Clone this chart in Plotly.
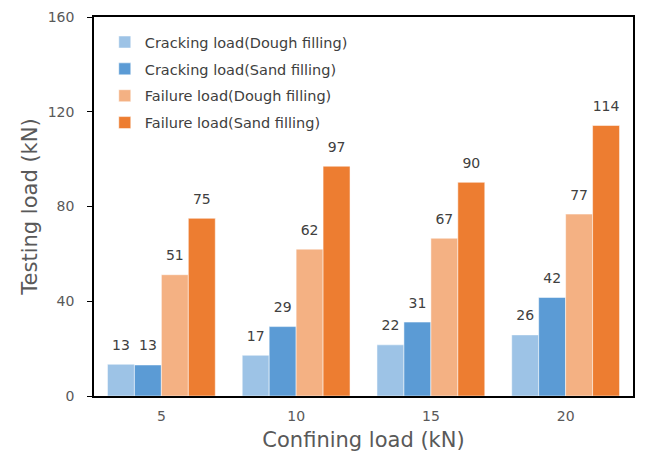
import plotly.graph_objects as go

categories = ["5", "10", "15", "20"]
series_names = [
    "Cracking load(Dough filling)",
    "Cracking load(Sand filling)",
    "Failure load(Dough filling)",
    "Failure load(Sand filling)",
]
crack_dough = [13.4, 17.2, 21.6, 25.8]
crack_sand = [13.1, 29.3, 31.2, 41.6]
fail_dough = [51.2, 62.0, 66.6, 76.8]
fail_sand = [75.0, 97.0, 90.2, 114.2]
labels = [
    ["13", "17", "22", "26"],
    ["13", "29", "31", "42"],
    ["51", "62", "67", "77"],
    ["75", "97", "90", "114"],
]
colors = ["#9DC3E6", "#5B9BD5", "#F4B183", "#ED7D31"]
values = [crack_dough, crack_sand, fail_dough, fail_sand]

font_family = "DejaVu Sans, sans-serif"

fig = go.Figure()
for i, (name, vals, col) in enumerate(zip(series_names, values, colors)):
    fig.add_trace(go.Bar(
        x=categories, y=vals, name=name, legendgroup=f"g{i}",
        marker=dict(color=col, line=dict(color="rgba(255,255,255,0.5)", width=1)),
    ))
for i, (vals, lab) in enumerate(zip(values, labels)):
    fig.add_trace(go.Scatter(
        x=categories, y=vals, text=lab, mode="markers+text",
        textposition="top center", showlegend=False, hoverinfo="skip",
        marker=dict(size=16, opacity=0),
        textfont=dict(size=14, color="#404040", family=font_family),
        cliponaxis=False,
    ))

fig.update_layout(
    width=656, height=469,
    barmode="group", bargap=0.2, bargroupgap=0,
    scattermode="group", scattergap=0.2,
    plot_bgcolor="white", paper_bgcolor="white",
    margin=dict(l=86, r=31, t=9, b=81, autoexpand=False),
    font=dict(family=font_family, color="#404040"),
    legend=dict(x=0.02, y=0.976, xanchor="left", yanchor="top",
                font=dict(size=14.5, color="#404040"), tracegroupgap=5,
                traceorder="grouped", bgcolor="rgba(0,0,0,0)"),
)
fig.update_xaxes(
    showline=True, linecolor="black", linewidth=1.5, mirror=True, automargin=False,
    ticks="", tickfont=dict(size=14, color="#595959"), ticklabelstandoff=6,
    title=dict(text="Confining load (kN)", font=dict(size=21, color="#595959"), standoff=10),
)
fig.update_yaxes(
    range=[0, 160], dtick=40, showgrid=False, zeroline=False, automargin=False,
    showline=True, linecolor="black", linewidth=1.5, mirror=True,
    ticks="outside", ticklen=5, tickcolor="black", ticklabelstandoff=10,
    tickfont=dict(size=14, color="#595959"),
    title=dict(text="Testing load (kN)", font=dict(size=21, color="#595959"), standoff=4),
)

fig.write_html("out.html")
